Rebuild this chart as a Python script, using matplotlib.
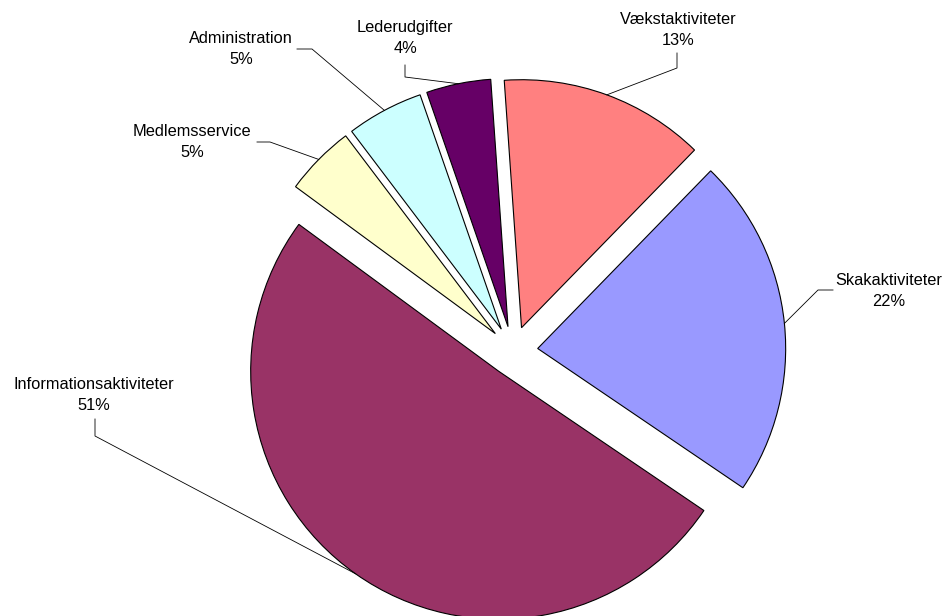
import numpy as np
import matplotlib
matplotlib.use("Agg")
import matplotlib.pyplot as plt

plt.rcParams["font.family"] = ["Liberation Sans", "DejaVu Sans"]

# data (shares in %)
categories = ["Vækstaktiviteter", "Skakaktiviteter", "Informationsaktiviteter",
              "Medlemsservice", "Administration", "Lederudgifter"]
shares = [13.4, 22.2, 50.6, 4.6, 5.0, 4.2]
colors = ["#FF8080", "#9999FF", "#993366", "#FFFFCC", "#CCFFFF", "#660066"]

# layout in pixels (image coords, y down): pie centre / radius,
# label block centres and leader elbows
W, H = 948, 616
CX, CY, R = 513, 351, 248
label_pos = [(678, 30), (889, 291), (94, 395), (192, 142), (241, 49), (405, 38)]
leader_pts = [
    [(677, 68), (677, 53)],
    [(818, 290), (833, 290)],
    [(95, 436), (95, 419)],
    [(270, 142), (257, 142)],
    [(312, 49), (297, 49)],
    [(405, 77), (405, 65)],
]


def px(x, y):
    return (x - CX) / R, (CY - y) / R


fig = plt.figure(figsize=(W / 100, H / 100), dpi=100)
ax = fig.add_axes([0, 0, 1, 1])

wedges, _ = ax.pie(shares, colors=colors, startangle=94, counterclock=False,
                   explode=[0.1] * len(shares), radius=1.0,
                   wedgeprops=dict(edgecolor="black", linewidth=0.8))

total = sum(shares)
for w, name, v, lp, pts in zip(wedges, categories, shares, label_pos, leader_pts):
    tm = np.deg2rad((w.theta1 + w.theta2) / 2)
    x0 = w.center[0] + w.r * np.cos(tm)
    y0 = w.center[1] + w.r * np.sin(tm)
    xs = [x0] + [px(*p)[0] for p in pts]
    ys = [y0] + [px(*p)[1] for p in pts]
    ax.plot(xs, ys, color="black", linewidth=0.6)
    tx, ty = px(*lp)
    ax.text(tx, ty, f"{name}\n{round(v / total * 100)}%", ha="center", va="center",
            fontsize=11.8, linespacing=1.5, color="black")

ax.set_xlim(px(0, 0)[0], px(W, 0)[0])
ax.set_ylim(px(0, H)[1], px(0, 0)[1])
ax.set_aspect("equal", adjustable="box")
ax.set_axis_off()

fig.savefig("out.png", dpi=100, facecolor="white")
plt.close(fig)
